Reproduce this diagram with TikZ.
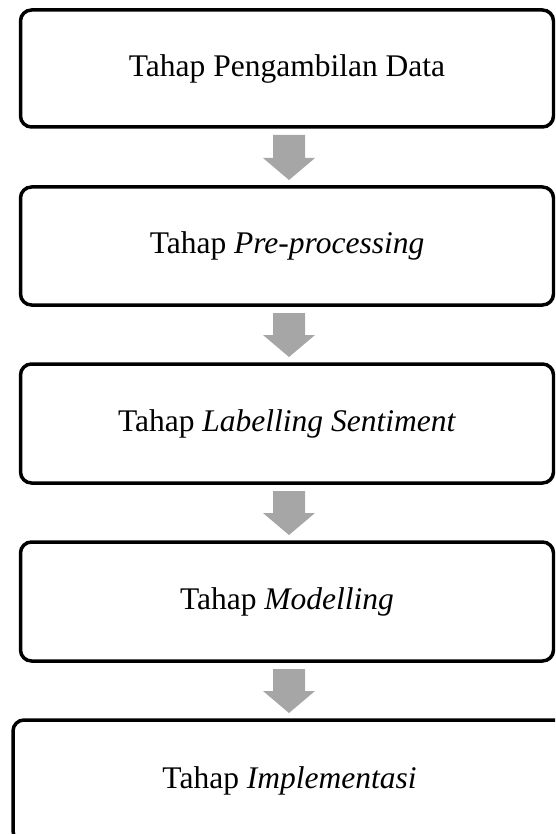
\documentclass[tikz,border=0pt]{standalone}
\usepackage{fontspec}
\setmainfont{Liberation Serif}
\usetikzlibrary{calc}
\definecolor{arrowgray}{HTML}{A6A6A6}
\tikzset{
  stagebox/.style={draw=black, line width=3.5pt, rounded corners=11pt, fill=white,
    minimum width=533pt, minimum height=118pt, inner sep=0pt, outer sep=0pt,
    font=\fontsize{31.5}{36}\selectfont},
}
\newcommand\blockarrow[2]{%
  \path let \p1=(#1.south), \p2=(#2.north) in
    [fill=arrowgray]
    (\x1-14pt,\y1-8pt) -- (\x1+18pt,\y1-8pt) -- (\x1+18pt,\y2+29pt)
    -- (\x1+28pt,\y2+29pt) -- (\x1+2pt,\y2+7pt) -- (\x1-24pt,\y2+29pt)
    -- (\x1-14pt,\y2+29pt) -- cycle;}
\begin{document}
\begin{tikzpicture}[x=1pt,y=-1pt]
\useasboundingbox (0,0) rectangle (555,834);
\clip (0,0) rectangle (555,834);
\node[stagebox, minimum height=117pt] (b1) at (287,68.5) {Tahap Pengambilan Data};
\node[stagebox] (b2) at (287,246) {Tahap \textit{Pre-processing}};
\node[stagebox, minimum height=119pt] (b3) at (287,423.5) {Tahap \textit{Labelling Sentiment}};
\node[stagebox, minimum height=119pt] (b4) at (287,601.5) {Tahap \textit{Modelling}};
\node[stagebox, minimum width=553pt, minimum height=122pt] (b5) at (289.5,781) {Tahap \textit{Implementasi}};
\blockarrow{b1}{b2}
\blockarrow{b2}{b3}
\blockarrow{b3}{b4}
\blockarrow{b4}{b5}
\end{tikzpicture}
\end{document}
